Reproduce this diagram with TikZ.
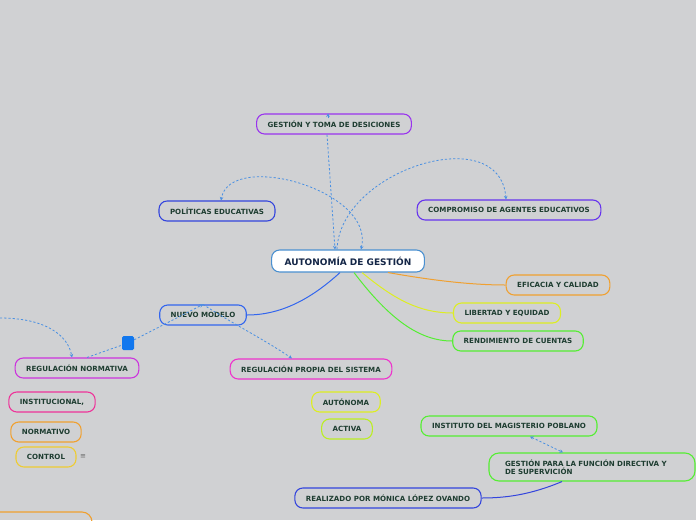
\documentclass[tikz,border=0pt]{standalone}
\usepackage{fontspec}
\setmainfont{DejaVu Sans}
\usepackage{tikz}
\usetikzlibrary{arrows.meta,positioning,calc}

\definecolor{bggray}{HTML}{D0D1D3}
\definecolor{txtgreen}{HTML}{1E3D31}
\definecolor{txtnavy}{HTML}{142647}
\definecolor{relblue}{HTML}{4A90E2}
\definecolor{sqblue}{HTML}{1177EE}
\definecolor{cviolet}{HTML}{9933EE}
\definecolor{cpurple}{HTML}{6633EE}
\definecolor{cblue}{HTML}{3344DD}
\definecolor{cnblue}{HTML}{3366EE}
\definecolor{corange}{HTML}{F0A030}
\definecolor{cyellow}{HTML}{DDEE22}
\definecolor{cgold}{HTML}{EECC33}
\definecolor{clime}{HTML}{BBEE22}
\definecolor{cgreen}{HTML}{55EE33}
\definecolor{cmagenta}{HTML}{CC33DD}
\definecolor{cpink}{HTML}{EE33CC}
\definecolor{crose}{HTML}{EE3399}
\definecolor{cmain}{HTML}{4A90D0}

\tikzset{
	topic/.style={draw=#1, rounded corners=8pt, line width=1.1pt, minimum height=20pt, inner xsep=11pt,
		font=\fontsize{7.1}{8.4}\selectfont\bfseries, text=txtgreen},
	central/.style={draw=cmain, fill=white, rounded corners=8pt, line width=1.1pt, minimum height=22pt, inner xsep=13pt,
		font=\fontsize{9}{10}\selectfont\bfseries, text=txtnavy},
	relline/.style={relblue, line width=0.8pt, dash pattern=on 2.2pt off 2pt},
	tip/.style={-{Stealth[length=3.5pt,width=3.5pt]}},
	twotip/.style={{Stealth[length=3.5pt,width=3.5pt]}-{Stealth[length=3.5pt,width=3.5pt]}}
}

\begin{document}
\begin{tikzpicture}[x=1pt,y=-1pt]
	\useasboundingbox[fill=bggray] (0,0) rectangle (696,520);

	\node[central] (auto) at (348,261) {AUTONOMÍA DE GESTIÓN};
	\node[topic=cviolet] (gtd) at (334,124) {GESTIÓN Y TOMA DE DESICIONES};
	\node[topic=cblue] (pol) at (217,211) {POLÍTICAS EDUCATIVAS};
	\node[topic=cpurple] (comp) at (509,210) {COMPROMISO DE AGENTES EDUCATIVOS};
	\node[topic=corange] (efi) at (558,285) {EFICACIA Y CALIDAD};
	\node[topic=cyellow] (lib) at (507,313) {LIBERTAD Y EQUIDAD};
	\node[topic=cgreen] (rend) at (518,341) {RENDIMIENTO DE CUENTAS};
	\node[topic=cnblue] (nuevo) at (203,315) {NUEVO MODELO};
	\node[topic=cmagenta] (regn) at (77,368) {REGULACIÓN NORMATIVA};
	\node[topic=cpink] (regp) at (311,369) {REGULACIÓN PROPIA DEL SISTEMA};
	\node[topic=crose] (inst) at (52,402) {INSTITUCIONAL,};
	\node[topic=corange] (norm) at (46,432) {NORMATIVO};
	\node[topic=cgold] (ctrl) at (46,457) {CONTROL};
	\node[text=gray!80!black, font=\fontsize{7}{8}\selectfont] (ctrlnote) at (83,457) {≡};
	\node[topic=cyellow] (auton) at (346,402) {AUTÓNOMA};
	\node[topic=clime] (act) at (347,429) {ACTIVA};
	\node[topic=cgreen] (imp) at (509,426) {INSTITUTO DEL MAGISTERIO POBLANO};
	\node[topic=cgreen, minimum height=28pt, text width=174pt, inner xsep=16pt, align=left, rounded corners=10pt] (gfd) at (592,467)
		{GESTIÓN PARA LA FUNCIÓN DIRECTIVA Y\\DE SUPERVICIÓN};
	\node[topic=cblue] (real) at (388,498) {REALIZADO POR MÓNICA LÓPEZ OVANDO};
	\node[fill=sqblue, rounded corners=1.5pt, minimum width=12pt, minimum height=14pt, inner sep=0pt] (sq) at (128,343) {};
	\draw[corange, line width=1.1pt, rounded corners=10pt] (-20,540) -- (-20,512) -- (92,512) -- (92,540);

	% branches
	\draw[cnblue, line width=1pt] ([xshift=-8pt]auto.south) .. controls (310,300) and (280,315) .. (nuevo.east);
	\draw[corange, line width=1pt] ([xshift=40pt]auto.south) .. controls (430,280) and (470,285) .. (efi.west);
	\draw[cyellow, line width=1pt] ([xshift=14pt]auto.south) .. controls (395,300) and (420,313) .. (lib.west);
	\draw[cgreen, line width=1pt] ([xshift=6pt]auto.south) .. controls (390,320) and (420,341) .. (rend.west);
	\draw[cblue, line width=1pt] ([xshift=-30pt]gfd.south) .. controls (530,495) and (505,498) .. (real.east);

	% relations
	\draw[relline, tip] ([xshift=-7pt]gtd.south) -- ([xshift=-13pt]auto.north);
	\coordinate (gtdtop) at ([xshift=-6pt,yshift=-5pt]gtd.north);
	\draw[relline, tip] (gtdtop) -- ([xshift=-6pt]gtd.north);
	\draw[relline, tip] ([xshift=-11pt]auto.north) .. controls (340,170) and (500,120) .. ([xshift=-3pt]comp.north);
	\draw[relline, twotip] ([xshift=13pt]auto.north) .. controls (375,190) and (230,150) .. ([xshift=4pt]pol.north);
	\draw[relline, tip] (nuevo.north) .. controls (235,325) and (265,340) .. ([xshift=-19pt]regp.north);
	\draw[relline] ([xshift=10pt]regn.north) -- (sq);
	\draw[relline, tip] (sq) -- (nuevo.north);
	\coordinate (leftin) at (0,318);
	\draw[relline, tip] (leftin) .. controls (45,318) and (68,335) .. ([xshift=-5pt]regn.north);
	\draw[relline, twotip] ([xshift=21pt]imp.south) -- ([xshift=-29pt]gfd.north);
\end{tikzpicture}
\end{document}
